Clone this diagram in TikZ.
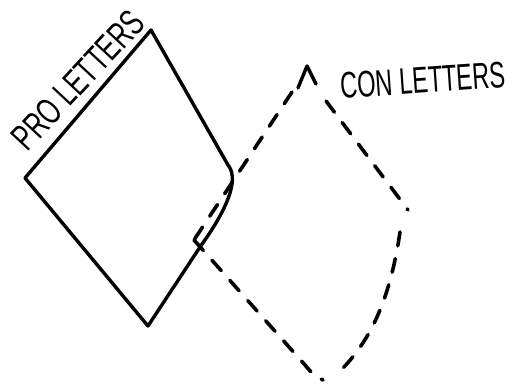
\documentclass[tikz,border=0pt]{standalone}
\usepackage{fontspec}
\setmainfont{Liberation Sans}
\begin{document}
\begin{tikzpicture}[x=1pt,y=-1pt,
  solidline/.style={line width=3.4pt,line join=round,line cap=round},
  dashline/.style={line width=3.6pt,line cap=round,dash pattern=on 14pt off 13pt},
  lbl/.style={font=\fontsize{37}{37}\selectfont,inner sep=0pt}]
\useasboundingbox (0,0) rectangle (520,386);
% solid diamond
\coordinate (pt) at (151,30);
\coordinate (pl) at (25,178);
\coordinate (pb) at (148,326);
\coordinate (px) at (200,247);
\draw[solidline] (pt) -- (228,165) .. controls (237,176) and (234,200) .. (px) -- (pb) -- (pl) -- cycle;
% dashed diamond
\coordinate (ct) at (307,66);
\coordinate (cr) at (408,210);
\coordinate (cb) at (323,380);
\coordinate (cl) at (194,240);
\draw[solidline] (298,88) -- (ct) -- (316,84);
\draw[dashline] (292,92) -- (cl);
\draw[dashline] (cl) -- (305,365) .. controls (312,374) and (318,378) .. (cb);
\draw[dashline] (326,101) -- (cr);
\draw[dashline] (400,232) .. controls (390,300) and (370,340) .. (343,368);
% labels
\node[lbl,rotate=47] (pro) at (78,80) {\scalebox{0.68}[1]{PRO LETTERS}};
\node[lbl,rotate=4] (con) at (423,80) {\scalebox{0.64}[1]{CON LETTERS}};
\end{tikzpicture}
\end{document}
